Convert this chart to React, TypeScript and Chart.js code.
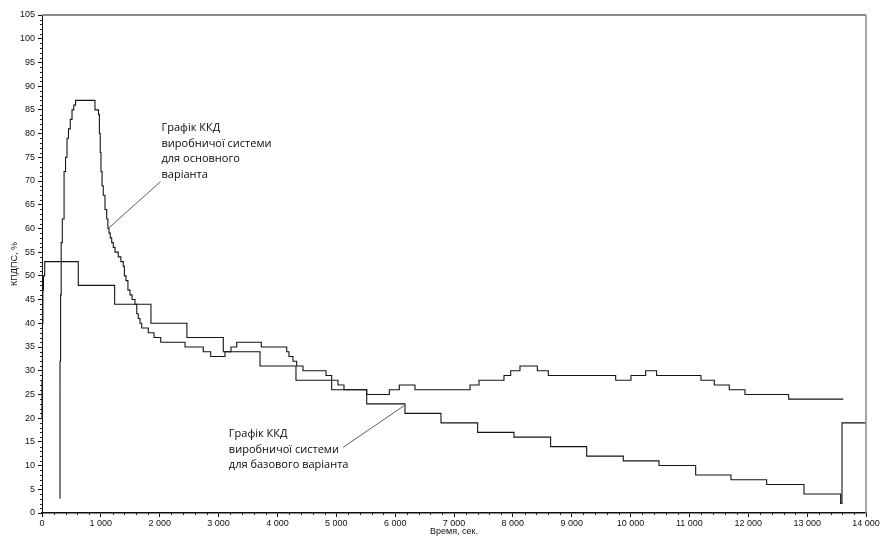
import React, { useEffect, useRef } from "react";
import { Chart, registerables } from "chart.js";

Chart.register(...registerables);

const W = 881;
const H = 541;

// Main variant (peak ~87%)
const mainTime = [306, 306, 316, 326, 345, 375, 400, 425, 450, 480, 510, 540, 570, 900, 960, 975, 990, 1002, 1020, 1041, 1070, 1099, 1120, 1138, 1160, 1184, 1211, 1240, 1296, 1340, 1381, 1400, 1427, 1460, 1495, 1530, 1580, 1610, 1636, 1665, 1694, 1806, 1903, 2017, 2430, 2740, 2866, 3109, 3211, 3308, 3726, 4157, 4196, 4264, 4327, 4434, 4825, 4922, 5029, 5131, 5516, 5901, 6071, 6337, 7272, 7425, 7849, 7963, 8121, 8416, 8603, 9747, 10007, 10256, 10443, 11196, 11423, 11677, 11944, 12686, 13614];
const mainEff = [3, 32, 46, 57, 62, 72, 75, 79, 81, 83, 85, 86, 87, 85, 84, 80, 76, 72, 69, 67, 64, 62, 60, 59, 58, 57, 56, 55, 54, 53, 52, 50, 49, 47, 46, 45, 44, 42, 41, 40, 39, 38, 37, 36, 35, 34, 33, 34, 35, 36, 35, 34, 33, 32, 31, 30, 29, 28, 27, 26, 25, 26, 27, 26, 27, 28, 29, 30, 31, 30, 29, 28, 29, 30, 29, 28, 27, 26, 25, 24, 24];

// Base variant
const baseTime = [0, 0, 8, 15, 25, 46, 616, 1234, 1851, 2462, 3080, 3704, 4315, 4921, 5517, 6167, 6779, 7402, 8019, 8642, 9254, 9876, 10483, 11106, 11706, 12312, 12946, 13569, 13592, 14000];
const baseEff = [20, 28, 40, 47, 50, 53, 48, 44, 40, 37, 34, 31, 28, 26, 23, 21, 19, 17, 16, 14, 12, 11, 10, 8, 7, 6, 4, 2, 19, 19];

const yTitle = "КПДПС, %";
const xTitle = "Время, сек.";
const noteMainLines = ["Графік ККД", "виробничої системи", "для основного", "варіанта"];
const noteBaseLines = ["Графік ККД", "виробничої системи", "для базового варіанта"];

// annotation anchors in data units
const noteMainAnchor = { x: 2030, y: 81.2 };
const noteMainLeader = { x1: 2016, y1: 69.9, x2: 1126, y2: 60.0 };
const noteBaseAnchor = { x: 3175, y: 16.6 };
const noteBaseLeader = { x1: 5116, y1: 13.85, x2: 6150, y2: 22.6 };

const fmt = (v: number) => {
  const s = String(Math.round(v));
  return s.replace(/\B(?=(\d{3})+(?!\d))/g, " ");
};

const decorPlugin = {
  id: "decor",
  afterDraw(chart: any) {
    const { ctx, chartArea, scales } = chart;
    const xs = scales.x;
    const ys = scales.y;
    ctx.save();
    // frame top/right
    ctx.strokeStyle = "#8a8a8a";
    ctx.lineWidth = 2;
    ctx.beginPath();
    ctx.moveTo(chartArea.left, chartArea.top);
    ctx.lineTo(chartArea.right, chartArea.top);
    ctx.stroke();
    ctx.lineWidth = 1.5;
    ctx.beginPath();
    ctx.moveTo(chartArea.right, chartArea.top);
    ctx.lineTo(chartArea.right, chartArea.bottom);
    ctx.stroke();
    // minor ticks
    ctx.strokeStyle = "#222";
    ctx.lineWidth = 1;
    ctx.beginPath();
    for (let v = 0; v <= 105; v += 1) {
      if (v % 5 === 0) continue;
      const y = Math.round(ys.getPixelForValue(v)) + 0.5;
      ctx.moveTo(chartArea.left - 2, y);
      ctx.lineTo(chartArea.left, y);
    }
    for (let v = 0; v <= 14000; v += 200) {
      if (v % 1000 === 0) continue;
      const x = Math.round(xs.getPixelForValue(v)) + 0.5;
      ctx.moveTo(x, chartArea.bottom);
      ctx.lineTo(x, chartArea.bottom + 2);
    }
    ctx.stroke();
    // leaders
    ctx.strokeStyle = "#333";
    ctx.lineWidth = 0.8;
    for (const l of [noteMainLeader, noteBaseLeader]) {
      ctx.beginPath();
      ctx.moveTo(xs.getPixelForValue(l.x1), ys.getPixelForValue(l.y1));
      ctx.lineTo(xs.getPixelForValue(l.x2), ys.getPixelForValue(l.y2));
      ctx.stroke();
    }
    // notes
    ctx.fillStyle = "#0a0a0a";
    ctx.font = "11px 'Open Sans'";
    ctx.textBaseline = "middle";
    ctx.textAlign = "left";
    const drawNote = (lines: string[], a: { x: number; y: number }) => {
      const x = xs.getPixelForValue(a.x);
      const y0 = ys.getPixelForValue(a.y);
      lines.forEach((t, i) => ctx.fillText(t, x, y0 + i * 15.5));
    };
    drawNote(noteMainLines, noteMainAnchor);
    drawNote(noteBaseLines, noteBaseAnchor);
    ctx.restore();
  },
};

export default function App() {
  const ref = useRef<HTMLCanvasElement>(null);
  useEffect(() => {
    const tickFont = { family: "'Liberation Sans', Arial, sans-serif", size: 9 };
    const chart = new Chart(ref.current as HTMLCanvasElement, {
      type: "line",
      data: {
        datasets: [
          {
            label: "main",
            data: mainTime.map((t, i) => ({ x: t, y: mainEff[i] })),
            borderColor: "#151515",
            borderWidth: 1.1,
            pointRadius: 0,
            stepped: "before",
            fill: false,
            clip: 4,
          },
          {
            label: "base",
            data: baseTime.map((t, i) => ({ x: t, y: baseEff[i] })),
            borderColor: "#151515",
            borderWidth: 1.1,
            pointRadius: 0,
            stepped: "before",
            fill: false,
            clip: 4,
          },
        ],
      },
      options: {
        responsive: false,
        animation: false,
        layout: { padding: { top: 15, right: 15, left: 0, bottom: 0 } },
        plugins: { legend: { display: false }, tooltip: { enabled: false } },
        scales: {
          x: {
            type: "linear",
            min: 0,
            max: 14000,
            ticks: {
              stepSize: 1000,
              autoSkip: false,
              maxRotation: 0,
              padding: 1,
              color: "#111",
              font: tickFont,
              callback: (v: any) => fmt(Number(v)),
            },
            grid: { drawOnChartArea: false, tickLength: 4, color: "#111" },
            border: { color: "#111", width: 1.5 },
            title: { display: true, text: xTitle, color: "#111", font: tickFont, padding: { top: 0, bottom: 4 } },
            afterFit: (s: any) => {
              s.height = 28;
            },
          },
          y: {
            type: "linear",
            min: 0,
            max: 105,
            ticks: {
              stepSize: 5,
              autoSkip: false,
              padding: 3,
              color: "#111",
              font: tickFont,
            },
            grid: { drawOnChartArea: false, tickLength: 4, color: "#111" },
            border: { color: "#111", width: 1 },
            title: { display: true, text: yTitle, color: "#111", font: tickFont, padding: { top: 9, bottom: 0 } },
            afterFit: (s: any) => {
              s.width = 42;
            },
          },
        },
      },
      plugins: [decorPlugin],
    } as any);
    return () => chart.destroy();
  }, []);
  return (
    <div style={{ position: "absolute", left: 0, top: 0, width: W, height: H, background: "#fff" }}>
      <canvas ref={ref} width={W} height={H} style={{ display: "block", width: W, height: H }} />
    </div>
  );
}
